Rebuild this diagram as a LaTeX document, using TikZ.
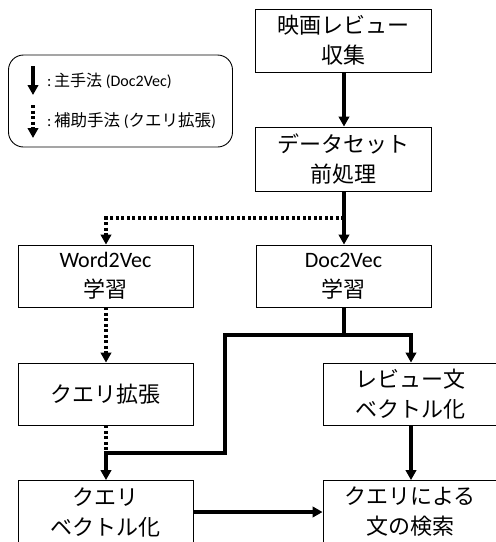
\documentclass[tikz,border=0pt]{standalone}
\usepackage{fontspec}
\setmainfont{Carlito}
\newfontfamily\jp{Noto Sans CJK JP}
\newfontfamily\lat{Carlito}
\usetikzlibrary{arrows.meta}
\newcommand{\legfont}{\fontsize{16}{19}\selectfont}
\newcommand{\boxfont}{\fontsize{22}{30}\selectfont}
\tikzset{
  box/.style={draw=black, line width=0.9pt, rectangle, minimum width=175pt, minimum height=62pt,
    inner sep=0pt, align=center, font=\boxfont\jp},
  mainarr/.style={line width=3.2pt, -{Triangle[length=10pt,width=10.5pt]}},
  mainline/.style={line width=3.2pt},
  subarr/.style={line width=3.2pt, dash pattern=on 3pt off 2.5pt, -{Triangle[length=10pt,width=10.5pt]}},
  subline/.style={line width=3.2pt, dash pattern=on 3pt off 2.5pt},
  legtext/.style={anchor=west, inner sep=0pt, font=\legfont}
}
\begin{document}
\begin{tikzpicture}[x=1pt,y=-1pt]
\useasboundingbox (0,0) rectangle (496,542);
\clip (0,0) rectangle (496,542);
% legend
\node[draw=black, line width=0.9pt, rounded corners=15pt, minimum width=224pt, minimum height=92pt, inner sep=0pt] (legend) at (120.5,101) {};
\coordinate (l1a) at (33,66);
\coordinate (l1b) at (33,95);
\coordinate (l2a) at (33,105);
\coordinate (l2b) at (33,138);
\draw[mainarr] (l1a) -- (l1b);
\draw[subarr] (l2a) -- (l2b);
\node[legtext] (lt1) at (47,81) {\lat :\,{\jp 主手法} (Doc2Vec)};
\node[legtext] (lt2) at (47,121) {\lat :\,{\jp\fontsize{16.5}{19}\selectfont 補助手法} ({\jp\fontsize{16.5}{19}\selectfont クエリ拡張})};
% boxes
\node[box, minimum width=176pt, minimum height=63pt] (collect) at (343,40.5) {映画レビュー\\収集};
\node[box, minimum width=176pt, minimum height=64pt] (prep) at (343,159) {データセット\\前処理};
\node[box] (w2v) at (105.5,276) {{\lat Word2Vec}\\学習};
\node[box] (d2v) at (343.5,276) {{\lat Doc2Vec}\\学習};
\node[box] (qexp) at (105.5,394) {クエリ拡張};
\node[box, minimum width=174pt] (rvec) at (410,394) {レビュー文\\ベクトル化};
\node[box, minimum height=63pt] (qvec) at (105.5,512) {クエリ\\ベクトル化};
\node[box, minimum width=174pt, minimum height=63pt] (search) at (410,512) {クエリによる\\文の検索};
% junctions
\coordinate (j1) at (344,218);
\coordinate (j1l) at (106,218);
\coordinate (j2) at (344,335);
\coordinate (j2r) at (411,335);
\coordinate (j2l) at (225,335);
\coordinate (j3) at (225,453);
\coordinate (j3l) at (106,453);
% connectors
\draw[mainarr] (collect.south -| j1) -- (prep.north -| j1);
\draw[mainarr] (prep.south -| j1) -- (d2v.north -| j1);
\draw[subarr] (j1) -- (j1l) -- (w2v.north -| j1l);
\draw[subarr] (w2v.south -| j1l) -- (qexp.north -| j1l);
\draw[subline] (qexp.south -| j1l) -- (j3l);
\draw[mainline] (d2v.south -| j2) -- (j2);
\draw[mainarr] (j2l) -- (j2r) -- (rvec.north -| j2r);
\draw[mainarr, line join=miter] (j2) -- (j2l) -- (j3) -- (j3l) -- (qvec.north -| j3l);
\draw[mainarr] (rvec.south -| j2r) -- (search.north -| j2r);
\draw[mainarr] (qvec.east) -- (search.west);
\end{tikzpicture}
\end{document}
